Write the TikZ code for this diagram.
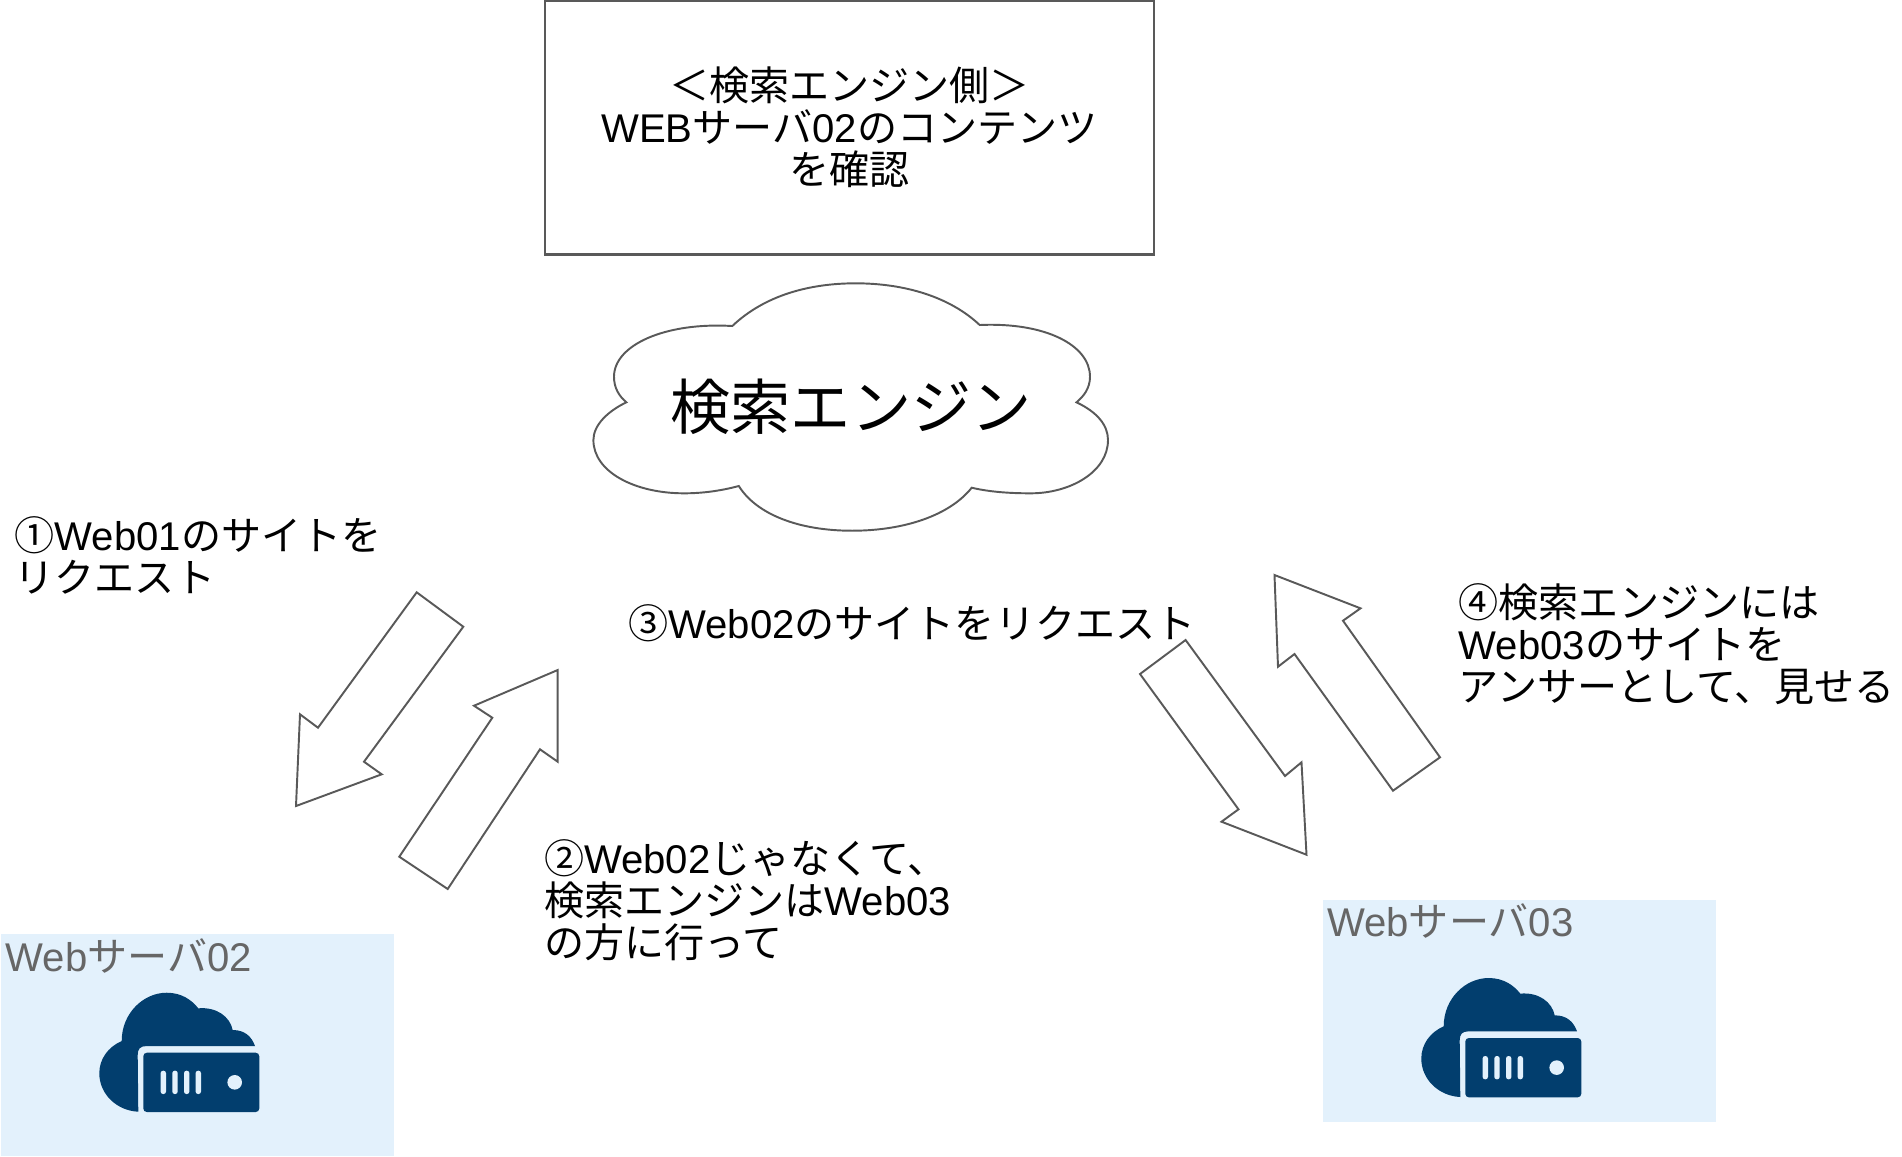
\documentclass[tikz,border=0pt]{standalone}
\usepackage{fontspec}
\setmainfont{Noto Sans CJK JP}
\newfontfamily\latinfont{Liberation Sans}
\newcommand{\lat}[1]{{\latinfont #1}}
\definecolor{boxblue}{HTML}{E3F1FC}
\definecolor{icondark}{HTML}{023E6E}
\tikzset{server icon/.pic={
  \fill[icondark] (137.3,177.7) .. controls (115.7,176.7) and (98.3,160) .. (98.3,139.3)
    .. controls (98.3,125) and (107,113) .. (120.7,107)
    .. controls (120.7,79.3) and (142.3,58.7) .. (165.7,58.7)
    .. controls (180.7,58.7) and (190.7,66) .. (197.3,74.3)
    .. controls (215.7,72.7) and (229,82.7) .. (231.7,96)
    .. controls (244,96) and (250.7,102.7) .. (254,112)
    -- (145.7,112) .. controls (139,112) and (136.7,115) .. (136.7,121) -- cycle;
  \fill[icondark,rounded corners=1pt] (142.3,118.7) rectangle (258.3,178);
  \foreach \x in {162.3,174,185.7,197.3}
    \fill[boxblue,rounded corners=0.7pt] (\x-2.7,136.7) rectangle (\x+2.7,160);
  \fill[boxblue] (233.7,148.3) circle (7.3);
}}
\begin{document}
\begin{tikzpicture}[x=0.01cm,y=-0.01cm,
  note node/.style={anchor=west,align=left,inner sep=0pt,font=\fontsize{11.4}{11.95}\selectfont},
  block arrow/.style={draw=black!65,line width=0.55pt,line join=miter},
  server box/.style={fill=boxblue,minimum width=3.93cm,minimum height=2.22cm,inner sep=0pt},
  server label/.style={anchor=west,inner sep=0pt,text=black!60,font=\fontsize{11.4}{11.95}\selectfont}]
  \useasboundingbox (0,0) rectangle (1902,1156);

  \node[draw=black!65,line width=0.65pt,minimum width=6.09cm,minimum height=2.54cm,inner sep=0pt,
    align=center,font=\fontsize{11.4}{11.95}\selectfont] (n0) at (849.5,127.5)
    {＜検索エンジン側＞\\\lat{WEB}サーバ\lat{02}のコンテンツ\\を確認};

  % cloud
  \draw[block arrow] (732.3,326)
    .. controls (765,295) and (810,283.3) .. (855.6,283.3)
    .. controls (905,283.3) and (950,297) .. (979.7,325)
    .. controls (1045,322) and (1090,345) .. (1090,376.7)
    .. controls (1090,388) and (1084,396) .. (1076.5,402.3)
    .. controls (1097,412) and (1108,425) .. (1108,440)
    .. controls (1108,472) and (1070,493.3) .. (1030.8,493.3)
    .. controls (1010,493.3) and (990,492) .. (971.7,487.7)
    .. controls (950,515) and (905,530.7) .. (852,530.7)
    .. controls (800,530.7) and (757,515) .. (738.8,486)
    .. controls (720,491) and (702,493.3) .. (684,493.3)
    .. controls (635,493.3) and (593.4,472) .. (593.4,440)
    .. controls (593.4,425) and (608,411) .. (626.4,402.3)
    .. controls (619,396) and (614,388) .. (614,376.7)
    .. controls (614,345) and (665,322) .. (732.3,326) -- cycle;
  \node[inner sep=0pt,font=\fontsize{17.1}{20}\selectfont] (n1) at (851,407) {検索エンジン};

  \node[note node] (n2) at (14,555) {①\lat{Web01}のサイトを\\リクエスト};
  \node[note node] (n3) at (543.5,900) {②\lat{Web02}じゃなくて、\\検索エンジンは\lat{Web03}\\の方に行って};
  \node[note node] (n4) at (627.5,623.5) {③\lat{Web02}のサイトをリクエスト};
  \node[note node] (n5) at (1458,644) {④検索エンジンには\\\lat{Web03}のサイトを\\アンサーとして、見せる};

  \draw[block arrow] (416.7,592.3) -- (463.3,626.7) -- (364,761.7) -- (381.7,774.3) -- (296,806) -- (300,714.3) -- (318,727.7) -- cycle;
  \draw[block arrow] (447.7,889) -- (399.3,856.7) -- (492.3,717.7) -- (474,705.7) -- (557.7,670) -- (557.7,761.7) -- (540,749.3) -- cycle;
  \draw[block arrow] (1185.6,640) -- (1140,674) -- (1238.5,809.3) -- (1221.5,821.7) -- (1306.5,854.7) -- (1301.5,762.3) -- (1285,776) -- cycle;
  \draw[block arrow] (1274.5,575) -- (1360.5,608.3) -- (1343,620.7) -- (1440,757.3) -- (1393,790.7) -- (1294.5,654) -- (1278,666.7) -- cycle;

  \node[server box] (n6) at (197.5,1045) {};
  \node[server box] (n7) at (1519.5,1011) {};
  \node[server label] (n8) at (5,956) {\lat{Web}サーバ\lat{02}};
  \node[server label] (n9) at (1326.5,921) {\lat{Web}サーバ\lat{03}};
  \pic at (1,934) {server icon};
  \pic at (1323,919.3) {server icon};
\end{tikzpicture}
\end{document}
